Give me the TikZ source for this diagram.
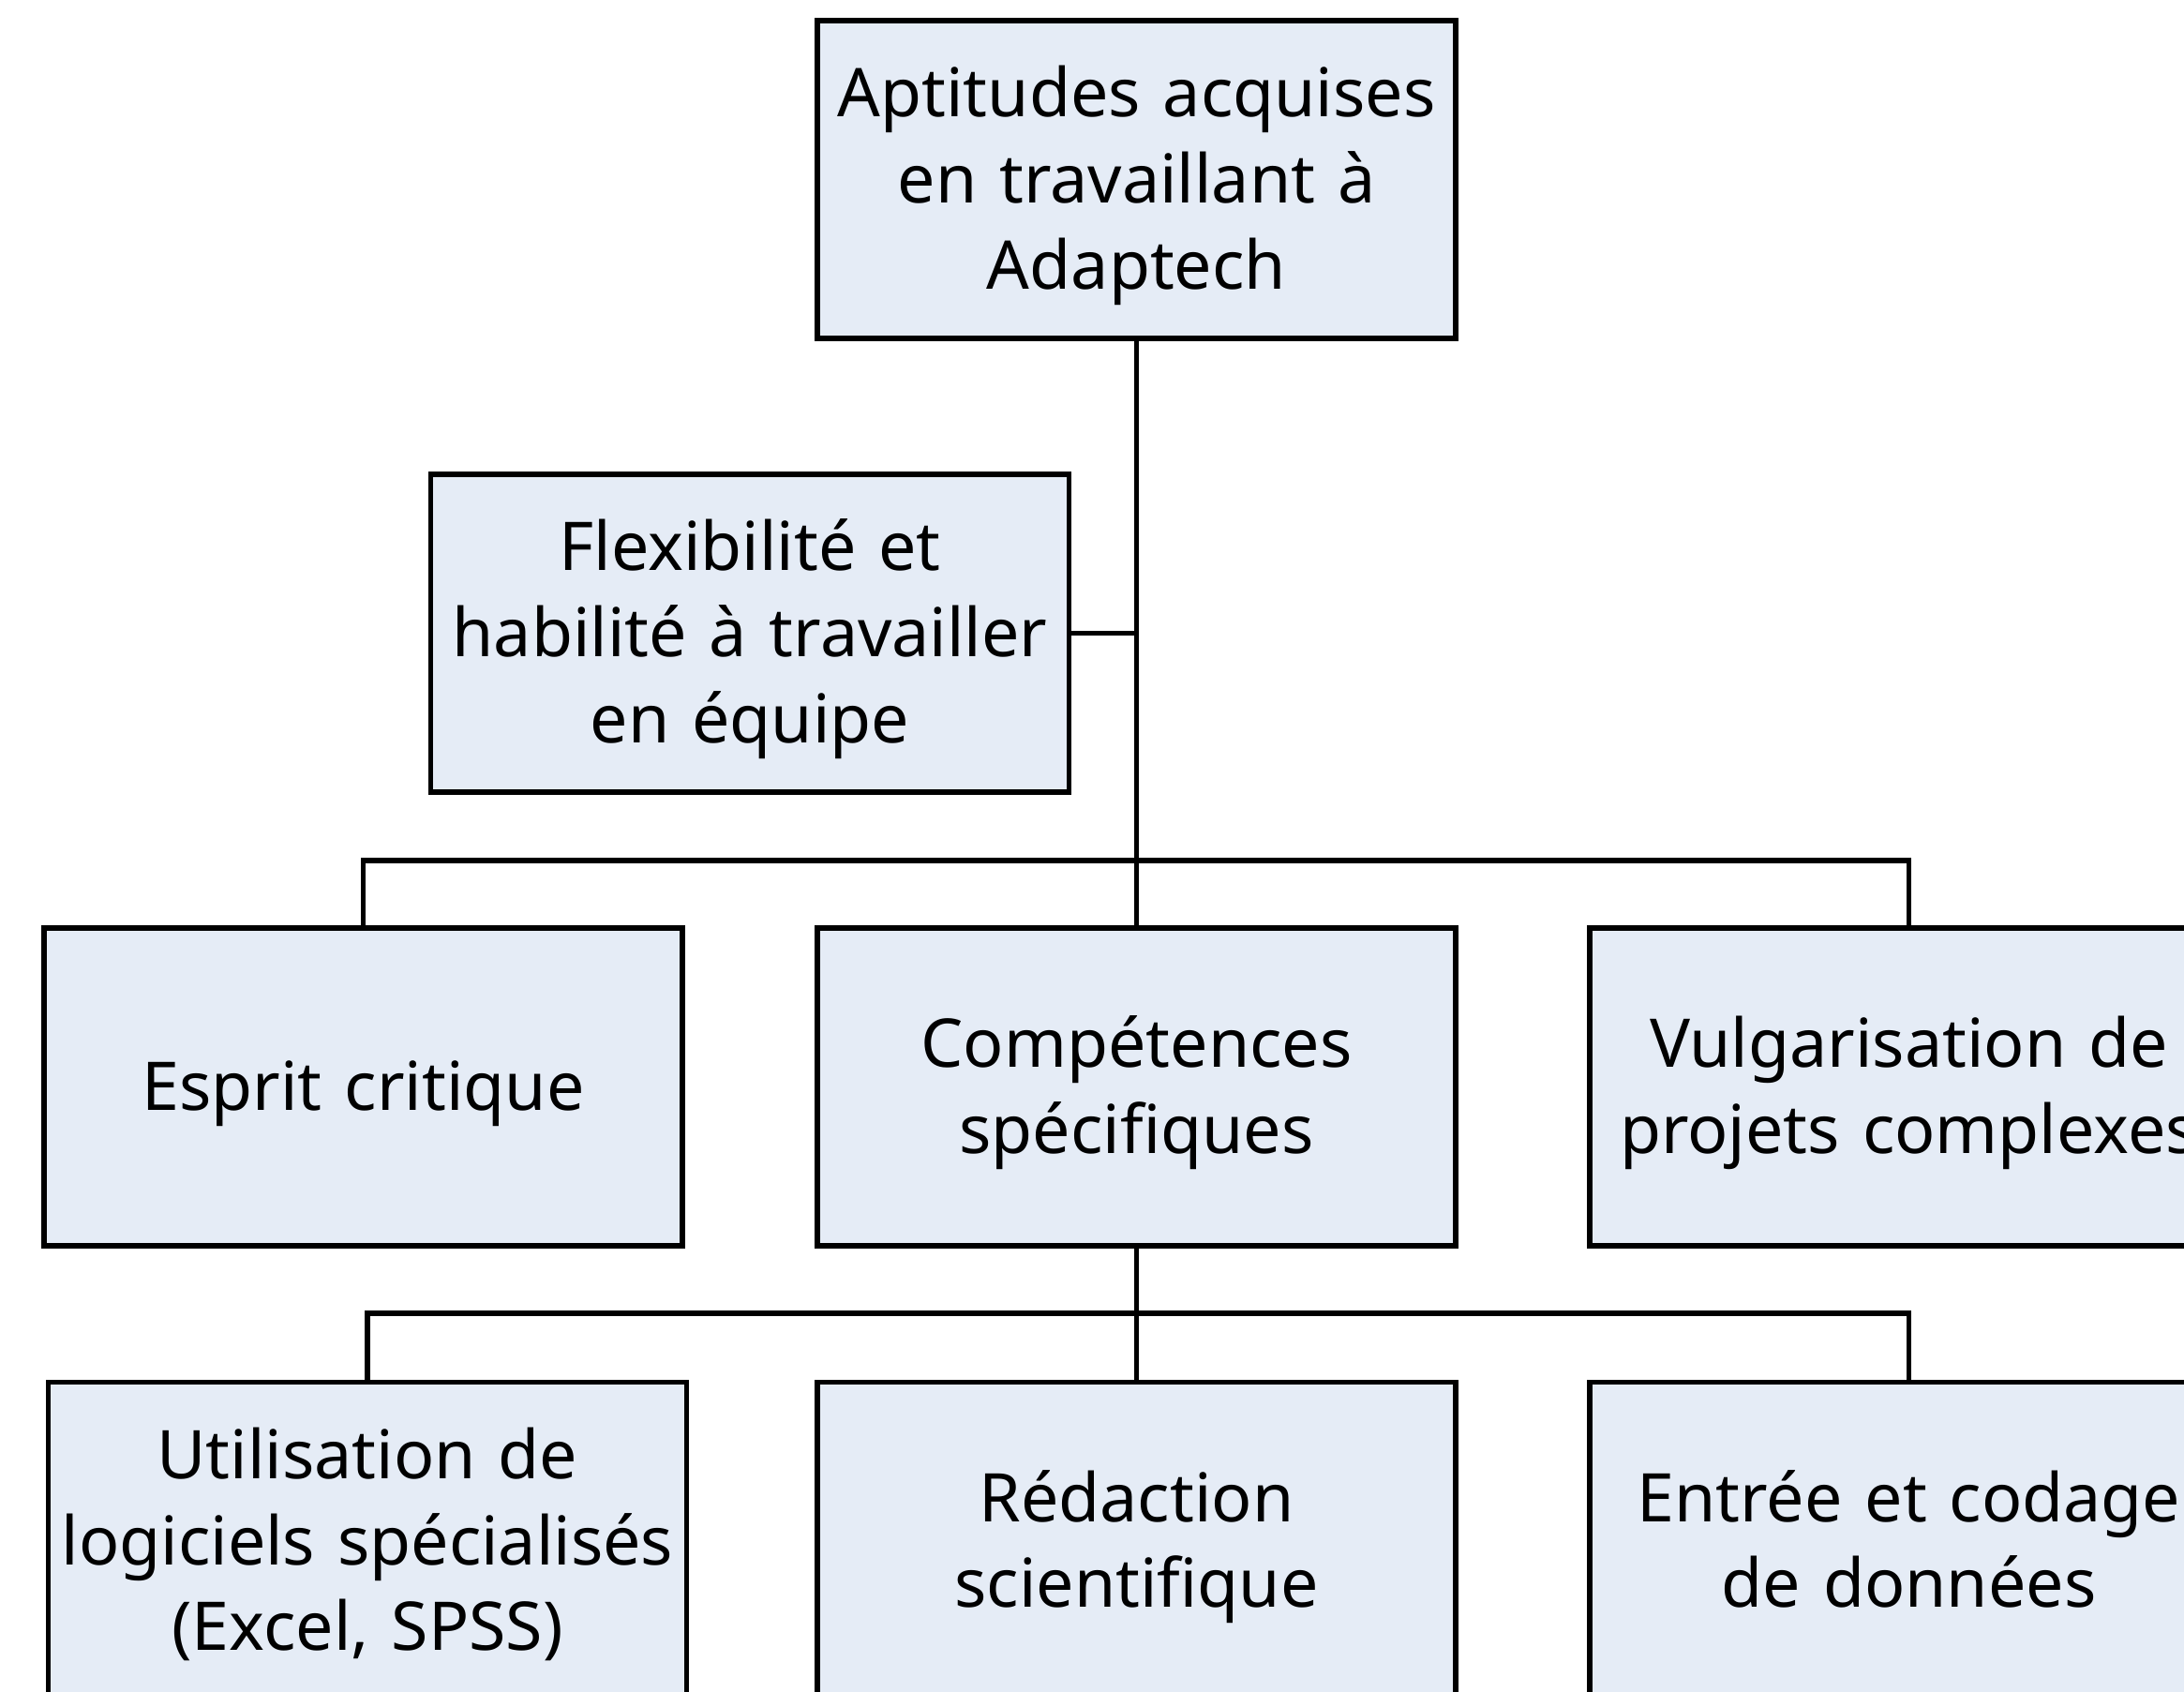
\documentclass[tikz,border=0pt]{standalone}
\usepackage{fontspec}
\setmainfont{Noto Sans}
\usepackage{tikz}
\definecolor{boite}{HTML}{E5ECF6}

\begin{document}
\begin{tikzpicture}[
		cadre/.style={draw=black, fill=boite, line width=1.45pt, inner sep=0pt,
			minimum width=6.81cm, minimum height=3.39cm, text width=6.81cm, align=center,
			font=\fontsize{20.4pt}{26.1pt}\selectfont,
			execute at begin node={\rule{0pt}{1em}},
			execute at end node={\rule[-0.3em]{0pt}{0pt}}},
		lien/.style={line width=1.45pt}
	]
			%%%%% START %%%%%
			
			\useasboundingbox (0, 0) rectangle (23.30, -18.04);
			\clip (0, 0) rectangle (23.30, -18.04);
			\fill[white] (0, 0) rectangle (23.30, -18.04);
			
			\node[cadre] (aptitudes) at (12.125, -1.915) {Aptitudes acquises\\en travaillant à\\Adaptech};
			\node[cadre] (flexibilite) at (8.00, -6.755) {Flexibilité et\\habilité à travailler\\en équipe};
			
			\node[cadre] (esprit) at (3.875, -11.595) {Esprit critique};
			\node[cadre] (competences) at (12.125, -11.595) {Compétences\\spécifiques};
			\node[cadre] (vulgarisation) at (20.365, -11.595) {Vulgarisation de\\projets complexes};
			
			\node[cadre] (logiciels) at (3.92, -16.44) {Utilisation de\\logiciels spécialisés\\(Excel, SPSS)};
			\node[cadre] (redaction) at (12.125, -16.44) {Rédaction\\scientifique};
			\node[cadre] (donnees) at (20.365, -16.44) {Entrée et codage\\de données};
			
			\coordinate (bus1) at (12.125, -9.18);
			\coordinate (bus2) at (12.125, -14.01);
			
			\draw[lien] (aptitudes.south) -- (competences.north);
			\draw[lien] (flexibilite.east) -- (flexibilite.east -| aptitudes.south);
			\draw[lien] (esprit.north) |- (bus1) -| (vulgarisation.north);
			
			\draw[lien] (competences.south) -- (redaction.north);
			\draw[lien] (logiciels.north) |- (bus2) -| (donnees.north);
			
			%%%%% END %%%%%
\end{tikzpicture}
\end{document}
